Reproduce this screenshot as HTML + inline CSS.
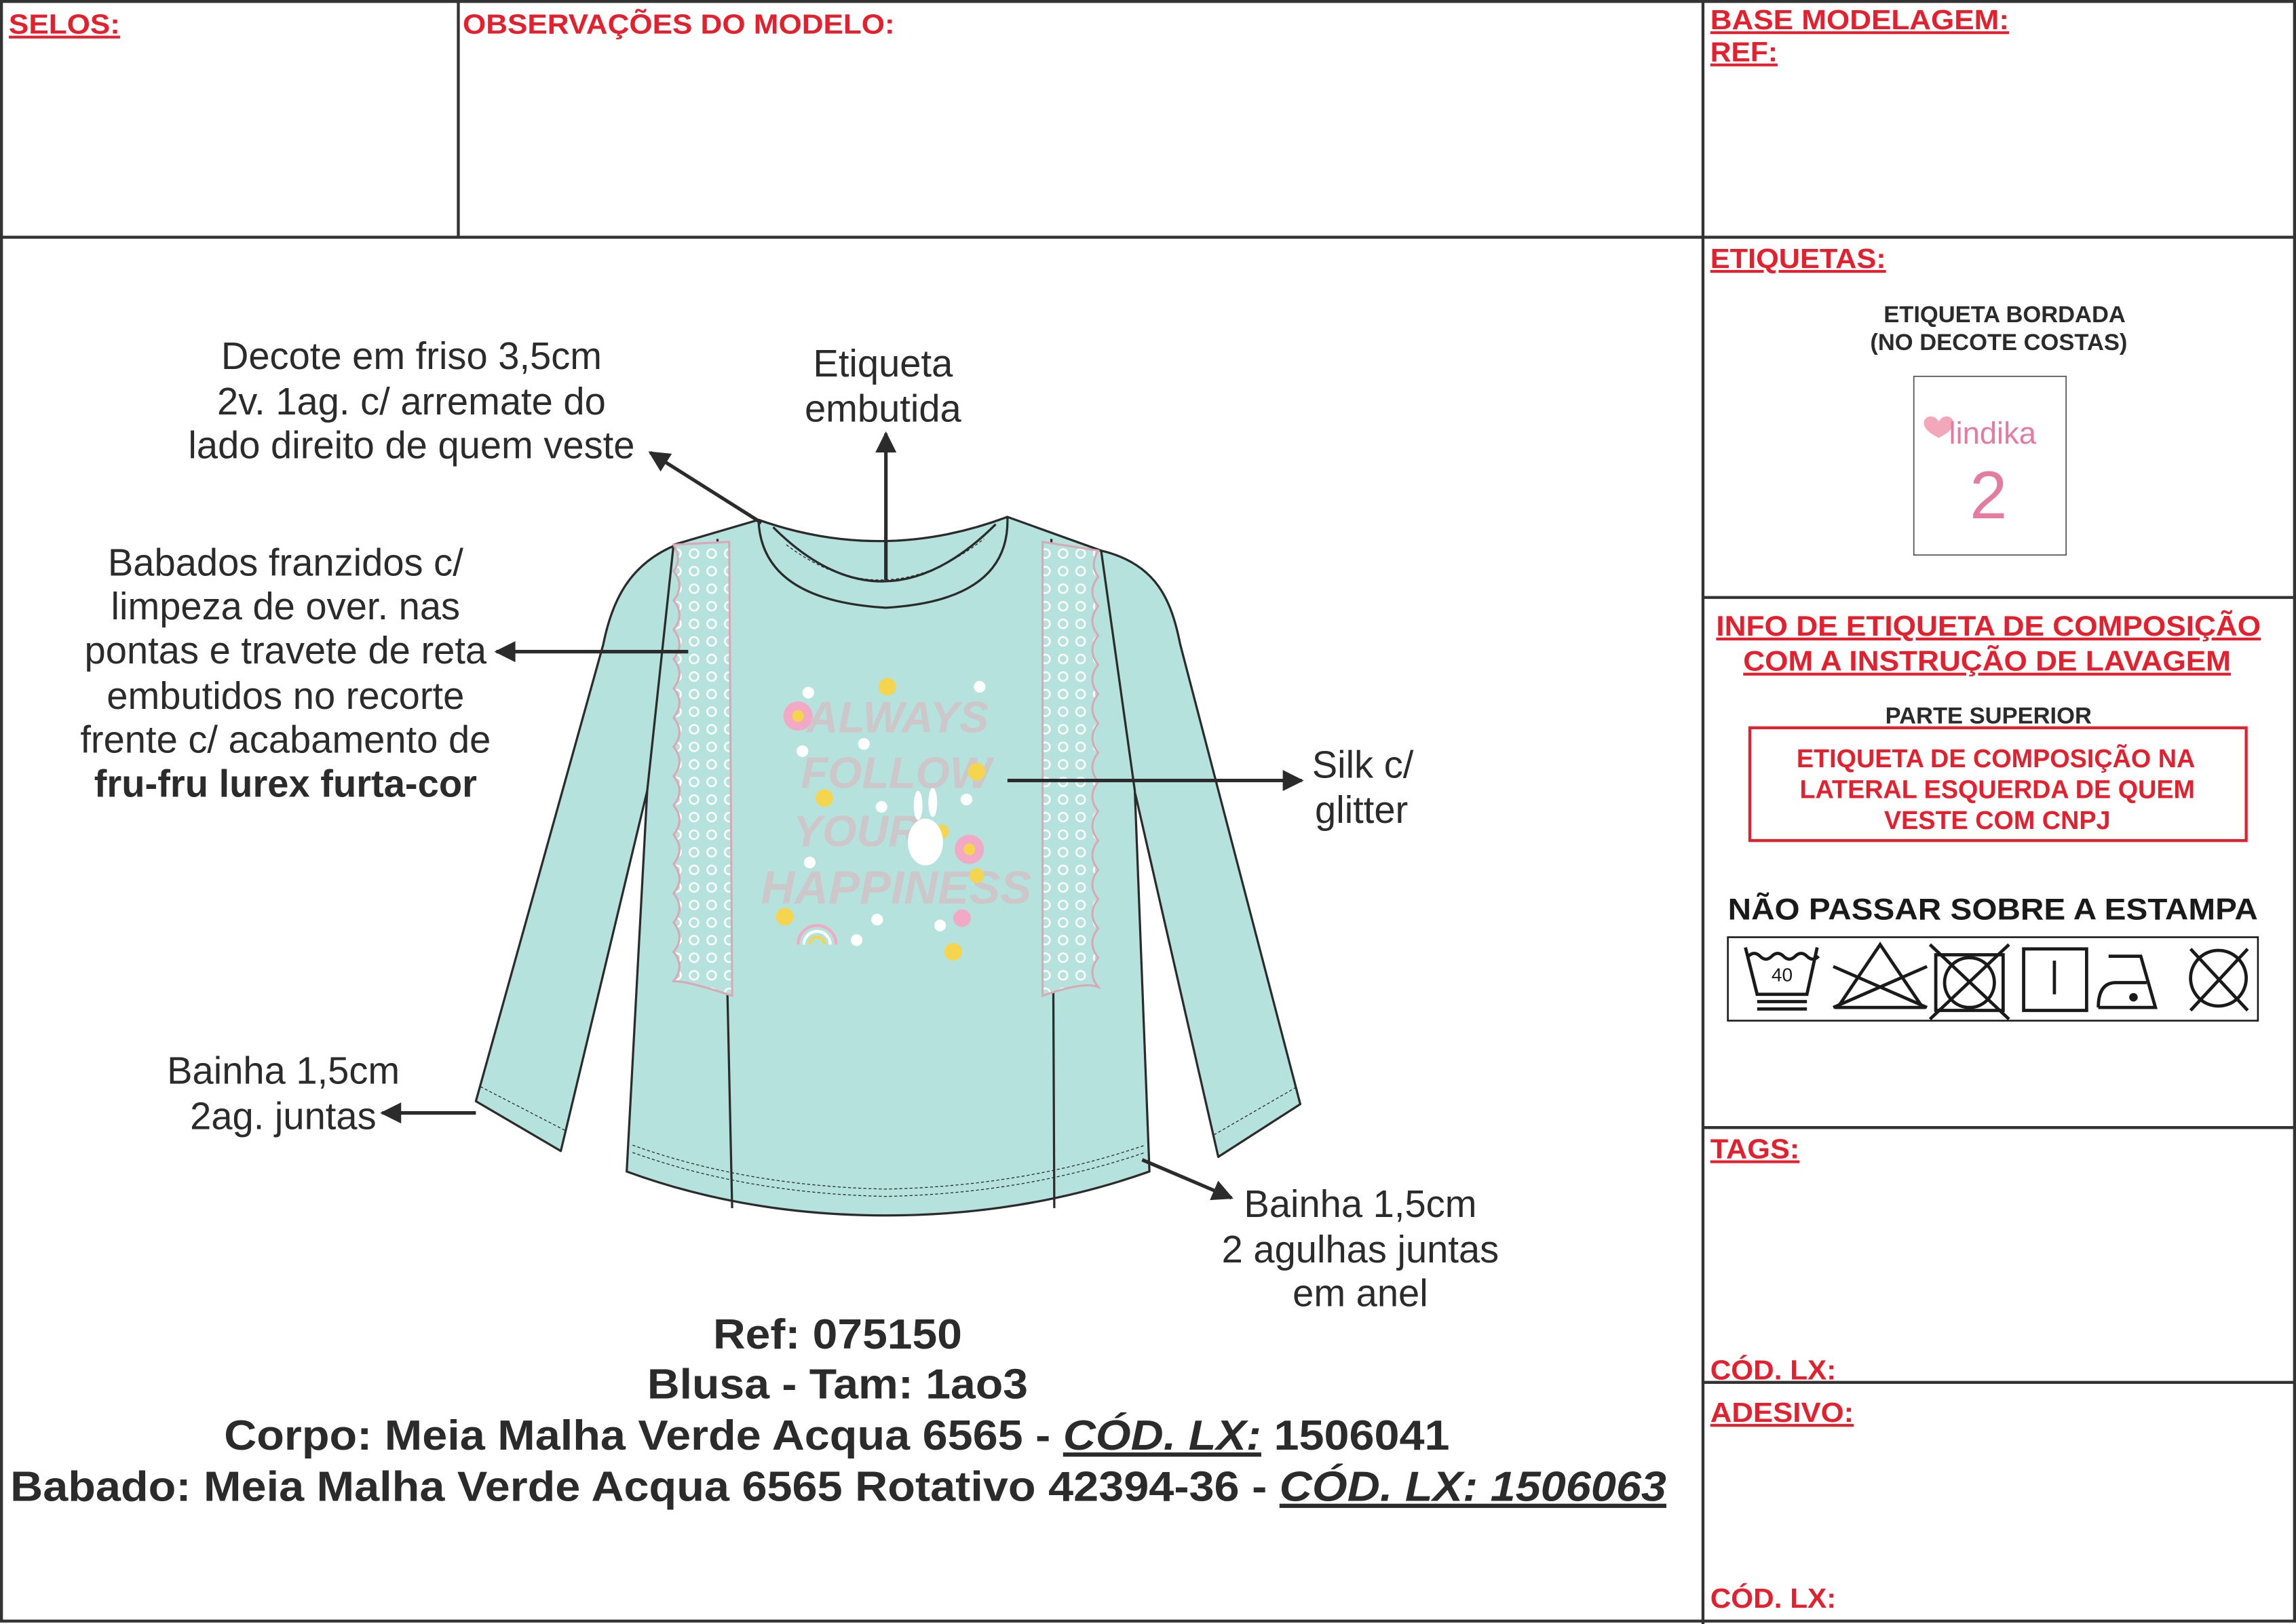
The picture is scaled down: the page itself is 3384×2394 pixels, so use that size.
<!DOCTYPE html>
<html><head><meta charset="utf-8"><style>
html,body{margin:0;padding:0;background:#fff;width:3384px;height:2394px;overflow:hidden}
svg{display:block}
text{font-family:"Liberation Sans",sans-serif}
.r{fill:#e5202e;font-weight:bold}
.lab{fill:#2b2b2b;font-size:26px}
.bb{fill:#2b2b2b;font-size:29px;font-weight:bold}
</style></head><body>
<svg width="3384" height="2394" viewBox="0 0 1568 1109" preserveAspectRatio="none" xmlns="http://www.w3.org/2000/svg">
<defs>
<marker id="ah" viewBox="0 0 10 10" refX="9" refY="5" markerWidth="7" markerHeight="6" orient="auto-start-reverse">
<path d="M0,0 L10,5 L0,10 z" fill="#2b2b2b"/></marker>
<pattern id="dots" width="12" height="12" patternUnits="userSpaceOnUse">
<rect width="12" height="12" fill="#b5e2dc"/><circle cx="6" cy="6" r="3" fill="none" stroke="#fff" stroke-width="1.2"/></pattern>
</defs>
<g stroke="#333" stroke-width="2" fill="none">
<rect x="1" y="1" width="1566" height="1106"/>
<line x1="0" y1="162" x2="1568" y2="162"/>
<line x1="313" y1="0" x2="313" y2="162"/>
<line x1="1163" y1="0" x2="1163" y2="1109"/>
<line x1="1163" y1="408" x2="1568" y2="408"/>
<line x1="1163" y1="770" x2="1568" y2="770"/>
<line x1="1163" y1="944" x2="1568" y2="944"/>
</g>
<g class="r" font-size="19">
<text x="6" y="23" textLength="76" lengthAdjust="spacingAndGlyphs" text-decoration="underline">SELOS:</text>
<text x="316" y="23" textLength="295" lengthAdjust="spacingAndGlyphs">OBSERVAÇÕES DO MODELO:</text>
<text x="1168" y="20" textLength="204" lengthAdjust="spacingAndGlyphs" text-decoration="underline">BASE MODELAGEM:</text>
<text x="1168" y="42" textLength="46" lengthAdjust="spacingAndGlyphs" text-decoration="underline">REF:</text>
<text x="1168" y="183" textLength="120" lengthAdjust="spacingAndGlyphs" text-decoration="underline">ETIQUETAS:</text>
<text x="1168" y="791" textLength="61" lengthAdjust="spacingAndGlyphs" text-decoration="underline">TAGS:</text>
<text x="1168" y="942" textLength="86" lengthAdjust="spacingAndGlyphs">CÓD. LX:</text>
<text x="1168" y="971" textLength="98" lengthAdjust="spacingAndGlyphs" text-decoration="underline">ADESIVO:</text>
<text x="1168" y="1098" textLength="86" lengthAdjust="spacingAndGlyphs">CÓD. LX:</text>
</g>
<g fill="#2b2b2b" font-weight="bold" font-size="16" text-anchor="middle">
<text x="1369" y="220">ETIQUETA BORDADA</text>
<text x="1365" y="239">(NO DECOTE COSTAS)</text>
<text x="1358" y="494">PARTE SUPERIOR</text>
</g>
<rect x="1307" y="257" width="104" height="122" fill="#fff" stroke="#555" stroke-width="0.8"/>
<path d="M1324,288 c-3,-6 -11,-4 -10,2 c1,4 6,7 10,9 c4,-2 9,-5 10,-9 c1,-6 -7,-8 -10,-2z" fill="#f2a7bb"/>
<text x="1331" y="303" font-size="21" fill="#e47ca0">lindika</text>
<text x="1358" y="354" font-size="46" fill="#e47ca0" text-anchor="middle">2</text>
<g class="r" font-size="19.5" text-anchor="middle" text-decoration="underline">
<text x="1358" y="434" textLength="372" lengthAdjust="spacingAndGlyphs">INFO DE ETIQUETA DE COMPOSIÇÃO</text>
<text x="1357" y="458" textLength="333" lengthAdjust="spacingAndGlyphs">COM A INSTRUÇÃO DE LAVAGEM</text>
</g>
<rect x="1195" y="497" width="339" height="77" fill="none" stroke="#e5202e" stroke-width="2"/>
<g class="r" font-size="17.5" text-anchor="middle">
<text x="1363" y="524">ETIQUETA DE COMPOSIÇÃO NA</text>
<text x="1364" y="545">LATERAL ESQUERDA DE QUEM</text>
<text x="1364" y="566">VESTE COM CNPJ</text>
</g>
<text x="1361" y="628" font-size="20.5" font-weight="bold" fill="#1a1a1a" text-anchor="middle" textLength="362" lengthAdjust="spacingAndGlyphs">NÃO PASSAR SOBRE A ESTAMPA</text>
<g stroke="#1a1a1a" stroke-width="2.2" fill="none">
<rect x="1180" y="640" width="362" height="57" stroke-width="1.2"/>
<path d="M1192,647 L1200,679 L1234,679 L1241,647"/>
<path d="M1194,653 q4,-4 8,0 q4,4 8,0 q4,-4 8,0 q4,4 8,0 q4,-4 8,0 q4,4 8,0"/>
<line x1="1200" y1="684" x2="1234" y2="684"/><line x1="1200" y1="689" x2="1234" y2="689"/>
<path d="M1255,688 L1284,645 L1313,688 z"/>
<line x1="1252" y1="660" x2="1316" y2="688"/><line x1="1252" y1="688" x2="1316" y2="660"/>
<rect x="1322" y="652" width="46" height="38"/><circle cx="1345" cy="671" r="17"/>
<line x1="1318" y1="645" x2="1372" y2="696"/><line x1="1318" y1="696" x2="1372" y2="645"/>
<rect x="1382" y="648" width="43" height="42"/><line x1="1403" y1="656" x2="1403" y2="679"/>
<path d="M1433,688 L1472,688 L1462,653 L1440,653 M1433,688 q0,-17 12,-17 L1466,671"/>
<circle cx="1457" cy="681" r="1.8" fill="#1a1a1a"/>
<circle cx="1515" cy="668" r="19"/>
<line x1="1496" y1="648" x2="1535" y2="690"/><line x1="1496" y1="690" x2="1535" y2="648"/>
</g>
<text x="1217" y="670" font-size="13" fill="#1a1a1a" text-anchor="middle">40</text>
<g stroke="#2b2b2b" stroke-width="1.5" stroke-linejoin="round">
<path d="M462,372 C430,385 418,410 412,440 L325,752 L383,786 L442,540 L470,420 z" fill="#b5e2dc"/>
<path d="M752,376 C790,385 800,410 806,440 L888,754 L832,790 L776,545 L745,420 z" fill="#b5e2dc"/>
<path d="M460,372 L518,355 Q603,385 688,353 L752,376 L775,540 L785,800 Q700,830 605,830 Q510,830 428,800 L442,540 z" fill="#b5e2dc"/>
<path d="M518,355 Q603,385 688,353 Q690,410 605,415 Q520,410 518,355 z" fill="#b5e2dc"/>
<path d="M528,360 Q603,435 680,358" fill="none"/>
<path d="M490,368 L500,825 M718,368 L720,825" fill="none"/>
</g>
<g stroke="#2b2b2b" stroke-width="0.6" stroke-dasharray="2,1.5" fill="none">
<path d="M533,365 Q603,430 676,362"/><path d="M537,372 Q603,422 672,368"/>
<path d="M432,782 Q510,810 605,812 Q700,810 782,782"/><path d="M432,787 Q510,815 605,817 Q700,815 782,787"/>
<path d="M328,742 L386,772"/><path d="M829,775 L886,742"/>
</g>
<path d="M498,370 L460,372 q6,10 0,18 q8,10 0,20 q8,10 0,20 q8,10 0,20 q8,10 0,20 q8,10 0,20 q8,10 0,20 q8,10 0,20 q8,10 0,20 q8,10 0,20 q8,10 0,20 q8,10 0,20 q8,10 0,20 q8,10 0,20 q8,10 0,20 Q470,670 500,680 z" fill="url(#dots)" stroke="#d9a8b4" stroke-width="1.4"/>
<path d="M712,370 L750,376 q-6,10 0,18 q-8,10 0,20 q-8,10 0,20 q-8,10 0,20 q-8,10 0,20 q-8,10 0,20 q-8,10 0,20 q-8,10 0,20 q-8,10 0,20 q-8,10 0,20 q-8,10 0,20 q-8,10 0,20 q-8,10 0,20 q-8,10 0,20 q-8,10 0,20 Q740,670 712,680 z" fill="url(#dots)" stroke="#d9a8b4" stroke-width="1.4"/>
<g font-weight="bold" fill="#cdc7ca" text-anchor="middle" font-style="italic">
<text x="613" y="500" font-size="30">ALWAYS</text>
<text x="612" y="538" font-size="30">FOLLOW</text>
<text x="585" y="578" font-size="30">YOUR</text>
<text x="612" y="617" font-size="32">HAPPINESS</text>
</g>
<g>
<circle cx="545" cy="489" r="10" fill="#f2a9c6"/><circle cx="545" cy="489" r="4" fill="#f4d54d"/>
<circle cx="662" cy="580" r="10" fill="#f2a9c6"/><circle cx="662" cy="580" r="4" fill="#f4d54d"/>
<circle cx="657" cy="627" r="6" fill="#f2a9c6"/>
<circle cx="606" cy="469" r="6" fill="#f4d54d"/><circle cx="667" cy="527" r="6" fill="#f4d54d"/>
<circle cx="563" cy="545" r="6" fill="#f4d54d"/><circle cx="643" cy="568" r="5" fill="#f4d54d"/>
<circle cx="536" cy="626" r="6" fill="#f4d54d"/><circle cx="651" cy="650" r="6" fill="#f4d54d"/>
<circle cx="667" cy="598" r="5" fill="#f4d54d"/>
<g fill="#fff"><circle cx="552" cy="473" r="4"/><circle cx="548" cy="513" r="4"/><circle cx="590" cy="508" r="4"/><circle cx="669" cy="469" r="4"/><circle cx="660" cy="546" r="4"/><circle cx="602" cy="551" r="4"/><circle cx="553" cy="589" r="4"/><circle cx="599" cy="628" r="4"/><circle cx="585" cy="642" r="4"/><circle cx="642" cy="632" r="4"/></g>
<ellipse cx="632" cy="575" rx="12" ry="16" fill="#fff"/>
<ellipse cx="627" cy="550" rx="3" ry="10" fill="#fff"/><ellipse cx="637" cy="548" rx="3" ry="10" fill="#fff"/>
<path d="M545,645 a13,13 0 0 1 26,0" fill="none" stroke="#f2a9c6" stroke-width="2"/>
<path d="M549,645 a9,9 0 0 1 18,0" fill="none" stroke="#fff" stroke-width="2"/>
<path d="M553,645 a5,5 0 0 1 10,0" fill="none" stroke="#f4d54d" stroke-width="2"/>
</g>
<g stroke="#2b2b2b" stroke-width="2.4" fill="none" marker-end="url(#ah)">
<line x1="520" y1="357" x2="444" y2="309"/>
<line x1="605" y1="396" x2="605" y2="296"/>
<line x1="470" y1="445" x2="339" y2="445"/>
<line x1="688" y1="533" x2="889" y2="533"/>
<line x1="325" y1="760" x2="261" y2="760"/>
<line x1="780" y1="792" x2="841" y2="818"/>
</g>
<g class="lab" text-anchor="middle">
<text x="281" y="252">Decote em friso 3,5cm</text>
<text x="281" y="283">2v. 1ag. c/ arremate do</text>
<text x="281" y="313">lado direito de quem veste</text>
<text x="603" y="257">Etiqueta</text>
<text x="603" y="288">embutida</text>
<text x="195" y="393">Babados franzidos c/</text>
<text x="195" y="423">limpeza de over. nas</text>
<text x="195" y="453">pontas e travete de reta</text>
<text x="195" y="484">embutidos no recorte</text>
<text x="195" y="514">frente c/ acabamento de</text>
<text x="195" y="544" font-weight="bold">fru-fru lurex furta-cor</text>
<text x="929" y="831">Bainha 1,5cm</text>
<text x="929" y="862">2 agulhas juntas</text>
<text x="929" y="892">em anel</text>
</g>
<g class="lab">
<text x="896" y="531">Silk c/</text>
<text x="898" y="562">glitter</text>
</g>
<g class="lab" text-anchor="end">
<text x="273" y="740">Bainha 1,5cm</text>
<text x="257" y="771">2ag. juntas</text>
</g>
<g class="bb">
<text x="487" y="921" textLength="170" lengthAdjust="spacingAndGlyphs">Ref: 075150</text>
<text x="442" y="955" textLength="260" lengthAdjust="spacingAndGlyphs">Blusa - Tam: 1ao3</text>
<text x="153" y="990" textLength="837" lengthAdjust="spacingAndGlyphs">Corpo: Meia Malha Verde Acqua 6565 - <tspan font-style="italic" text-decoration="underline">CÓD. LX:</tspan> 1506041</text>
<text x="7" y="1025" textLength="1131" lengthAdjust="spacingAndGlyphs">Babado: Meia Malha Verde Acqua 6565 Rotativo 42394-36 - <tspan font-style="italic" text-decoration="underline">CÓD. LX: 1506063</tspan></text>
</g>
</svg>
</body></html>
